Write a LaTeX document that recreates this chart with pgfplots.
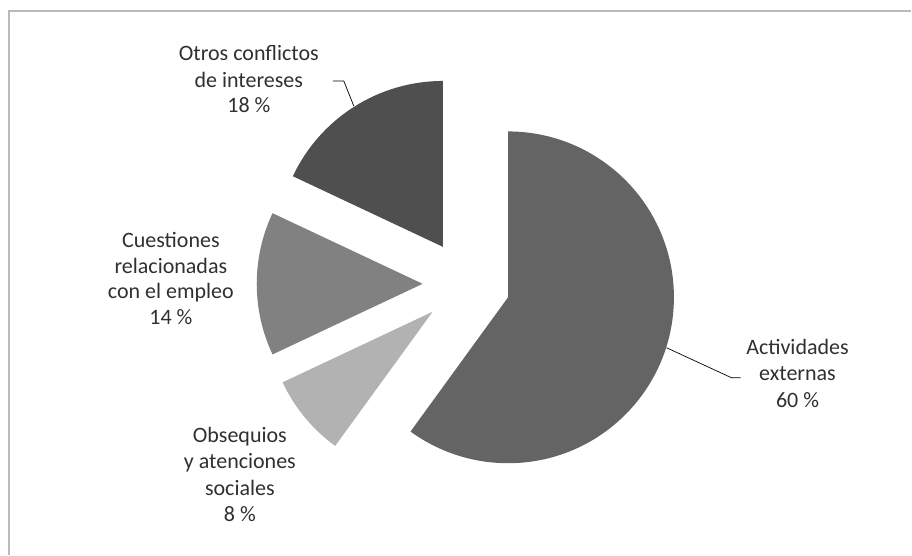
\documentclass[border=0pt]{standalone}
\usepackage{fontspec}
\setmainfont{Carlito}
\usepackage{pgfplots}
\pgfplotsset{compat=1.18}
\definecolor{cAct}{HTML}{646464}
\definecolor{cObs}{HTML}{B2B2B2}
\definecolor{cCue}{HTML}{818181}
\definecolor{cOtr}{HTML}{4F4F4F}
\definecolor{txt}{HTML}{303030}
\begin{document}
\begin{tikzpicture}[lbl/.style={anchor=base, inner sep=0pt, font=\fontsize{22bp}{26.5bp}\selectfont, text=txt}]
% data (percent), clockwise from 12 o'clock
\def\vAct{60}\def\vObs{8}\def\vCue{14}\def\vOtr{18}
\pgfmathsetmacro\aA{90}
\pgfmathsetmacro\aB{\aA-3.6*\vAct}
\pgfmathsetmacro\aC{\aB-3.6*\vObs}
\pgfmathsetmacro\aD{\aC-3.6*\vCue}
\pgfmathsetmacro\aE{\aD-3.6*\vOtr}
\def\R{166}\def\D{43.8}\def\CX{466.7}\def\CY{271}
\newcommand\slice[3]{%
  \pgfmathsetmacro\mid{(#1+#2)/2}%
  \edef\temp{\noexpand\fill[#3] (axis cs:\CX,\CY) ++(\mid:\D bp) -- ++(#1:\R bp) arc[start angle=#1, end angle=#2, radius=\R bp] -- cycle;}%
  \temp}
\begin{axis}[
  width=912bp, height=555bp, scale only axis,
  xmin=0, xmax=912, ymin=0, ymax=555,
  hide axis, clip=false,
]
\path (axis cs:0,0) rectangle (axis cs:912,555);
\draw[gray!55, line width=1.2bp] (axis cs:9,0) -- (axis cs:9,544) -- (axis cs:912,544);
\slice{\aA}{\aB}{cAct}
\slice{\aB}{\aC}{cObs}
\slice{\aC}{\aD}{cCue}
\slice{\aD}{\aE}{cOtr}
% leader lines
\draw[black, line width=0.7bp] (axis cs:333,474) -- (axis cs:344,474) -- (axis cs:354,449);
\draw[black, line width=0.7bp] (axis cs:667,207) -- (axis cs:732,177) -- (axis cs:741,177);
% labels
\node[lbl] at (axis cs:798,200.7) {Actividades};
\node[lbl] at (axis cs:798,174) {externas};
\node[lbl] at (axis cs:798,147.7) {60 \%};
\node[lbl] at (axis cs:249,494.5) {Otros conflictos};
\node[lbl] at (axis cs:249,467.5) {de intereses};
\node[lbl] at (axis cs:249,442) {18 \%};
\node[lbl] at (axis cs:171,307.3) {Cuestiones};
\node[lbl] at (axis cs:171,281.7) {relacionadas};
\node[lbl] at (axis cs:171,256) {con el empleo};
\node[lbl] at (axis cs:171,230) {14 \%};
\node[lbl] at (axis cs:240,112.3) {Obsequios};
\node[lbl] at (axis cs:240,85.7) {y atenciones};
\node[lbl] at (axis cs:240,59) {sociales};
\node[lbl] at (axis cs:240,33.3) {8 \%};
\end{axis}
\end{tikzpicture}
\end{document}
